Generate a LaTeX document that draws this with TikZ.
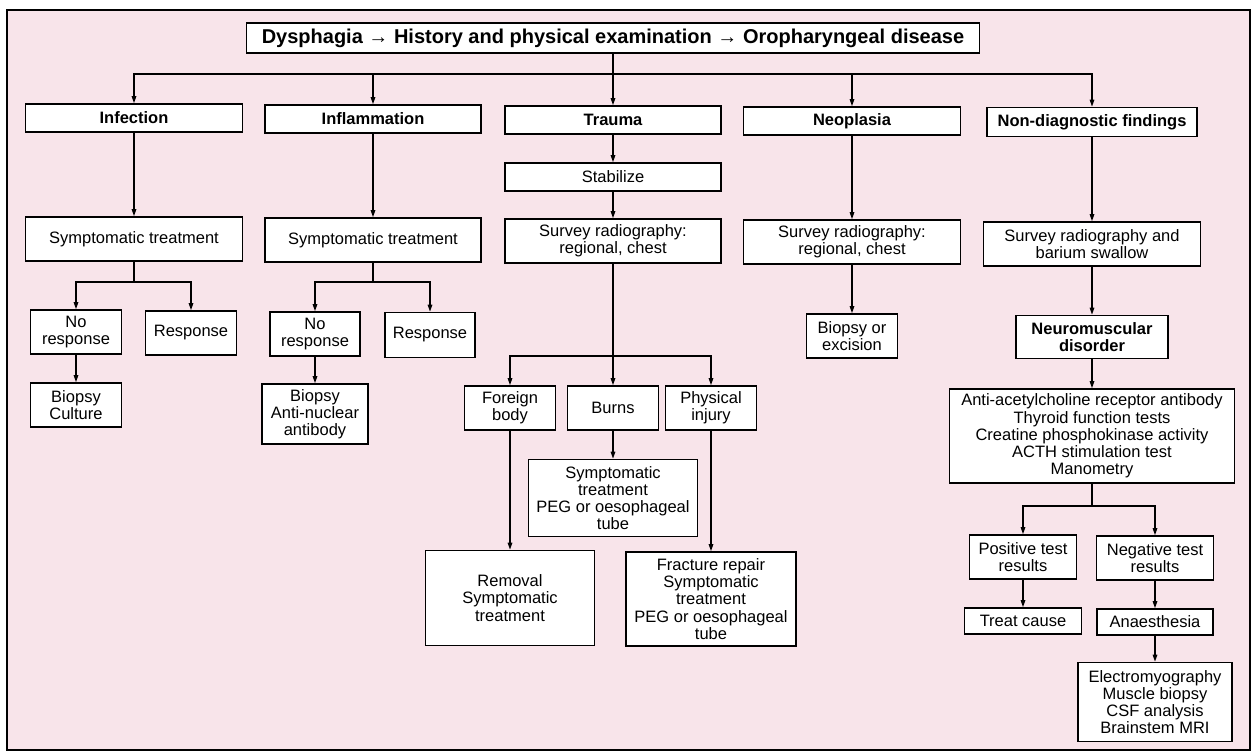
\documentclass[tikz,border=0pt]{standalone}
\usepackage{fontspec}
\setmainfont{Liberation Sans}
\usetikzlibrary{arrows.meta}
\definecolor{pinkbg}{RGB}{248,228,234}
\begin{document}
\begin{tikzpicture}[x=1pt,y=-1pt,
    box/.style={draw,line width=1.6pt,fill=white,align=center,inner sep=1pt,
      font=\fontsize{16.5}{17.2}\selectfont},
    head/.style={box,font=\fontsize{16.5}{17.2}\selectfont\bfseries},
    sz/.style 2 args={minimum width=#1,minimum height=#2},
    arr/.style={line width=1.3pt,-{Triangle[length=7pt,width=4.5pt]}},
    lin/.style={line width=1.3pt}]
  \useasboundingbox (0,0) rectangle (1256,752);
  % Page and frame
  \fill[white] (0,0) rectangle (1256,752);
  \draw[line width=2.4pt,fill=pinkbg] (7,10) rectangle (1250,750);
  % Title
  \node[head,sz={733}{30},font=\fontsize{20}{22}\selectfont\bfseries] (top) at (613,38)
    {Dysphagia → History and physical examination → Oropharyngeal disease};
  % Main groups
  \node[head,sz={217}{28}] (inf) at (134,118) {Infection};
  \node[head,sz={216}{28}] (infl) at (373,119) {Inflammation};
  \node[head,sz={216}{28}] (trauma) at (613,120) {Trauma};
  \node[head,sz={217}{28}] (neo) at (852,121) {Neoplasia};
  \node[head,sz={210}{29}] (nondiag) at (1092,122) {Non-diagnostic findings};
  % Infection
  \node[box,sz={217}{44}] (symI) at (134,239) {Symptomatic treatment};
  \node[box,sz={91}{44}] (noresI) at (76,332) {No\\response};
  \node[box,sz={91}{44}] (respI) at (191,333) {Response};
  \node[box,sz={91}{44}] (biopI) at (76,405) {Biopsy\\Culture};
  % Inflammation
  \node[box,sz={216}{44}] (symF) at (373,240) {Symptomatic treatment};
  \node[box,sz={90}{44}] (noresF) at (315,334) {No\\response};
  \node[box,sz={90}{45}] (respF) at (430,335) {Response};
  \node[box,sz={106}{60}] (biopF) at (315,414) {Biopsy\\Anti-nuclear\\antibody};
  % Trauma
  \node[box,sz={216}{28}] (stab) at (613,177) {Stabilize};
  \node[box,sz={216}{44}] (survT) at (613,241) {Survey radiography:\\regional, chest};
  \node[box,sz={91}{44}] (foreign) at (510,408) {Foreign\\body};
  \node[box,sz={91}{44}] (burns) at (613,408) {Burns};
  \node[box,sz={91}{44}] (phys) at (711,408) {Physical\\injury};
  \node[box,sz={169}{77}] (burnT) at (613,498) {Symptomatic\\treatment\\PEG or oesophageal\\tube};
  \node[box,sz={169}{95}] (remov) at (510,598) {Removal\\Symptomatic\\treatment};
  \node[box,sz={170}{94}] (fract) at (711,599) {Fracture repair\\Symptomatic\\treatment\\PEG or oesophageal\\tube};
  % Neoplasia
  \node[box,sz={217}{44}] (survN) at (852,242) {Survey radiography:\\regional, chest};
  \node[box,sz={91}{44}] (biopN) at (852,336) {Biopsy or\\excision};
  % Non-diagnostic findings
  \node[box,sz={217}{44}] (survB) at (1092,244) {Survey radiography and\\barium swallow};
  \node[head,sz={152}{43}] (neuro) at (1092,337) {Neuromuscular\\disorder};
  \node[box,sz={285}{94}] (tests) at (1092,436) {Anti-acetylcholine receptor antibody\\Thyroid function tests\\Creatine phosphokinase activity\\ACTH stimulation test\\Manometry};
  \node[box,sz={107}{44}] (pos) at (1023,557) {Positive test\\results};
  \node[box,sz={117}{44}] (neg) at (1155,558) {Negative test\\results};
  \node[box,sz={117}{26}] (treat) at (1023,621) {Treat cause};
  \node[box,sz={116}{26}] (anaes) at (1155,622) {Anaesthesia};
  \node[box,sz={154}{79}] (emg) at (1155,702) {Electromyography\\Muscle biopsy\\CSF analysis\\Brainstem MRI};
  % Branch points
  \coordinate (sp) at (613,74);
  \coordinate (bI) at (134,282);
  \coordinate (bF) at (373,282);
  \coordinate (bT) at (613,356);
  \coordinate (bN) at (1092,506);
  % Connectors
  \draw[arr] (top) -- (trauma);
  \draw[arr] (sp) -| (inf);
  \draw[arr] (sp) -| (infl);
  \draw[arr] (sp) -| (neo);
  \draw[arr] (sp) -| (nondiag);
  \draw[arr] (inf) -- (symI);
  \draw[lin] (symI) -- (bI);
  \draw[arr] (bI) -| (noresI);
  \draw[arr] (bI) -| (respI);
  \draw[arr] (noresI) -- (biopI);
  \draw[arr] (infl) -- (symF);
  \draw[lin] (symF) -- (bF);
  \draw[arr] (bF) -| (noresF);
  \draw[arr] (bF) -| (respF);
  \draw[arr] (noresF) -- (biopF);
  \draw[arr] (trauma) -- (stab);
  \draw[arr] (stab) -- (survT);
  \draw[arr] (survT) -- (burns);
  \draw[arr] (bT) -| (foreign);
  \draw[arr] (bT) -| (phys);
  \draw[arr] (burns) -- (burnT);
  \draw[arr] (foreign) -- (remov);
  \draw[arr] (phys) -- (fract);
  \draw[arr] (neo) -- (survN);
  \draw[arr] (survN) -- (biopN);
  \draw[arr] (nondiag) -- (survB);
  \draw[arr] (survB) -- (neuro);
  \draw[arr] (neuro) -- (tests);
  \draw[lin] (tests) -- (bN);
  \draw[arr] (bN) -| (pos);
  \draw[arr] (bN) -| (neg);
  \draw[arr] (pos) -- (treat);
  \draw[arr] (neg) -- (anaes);
  \draw[arr] (anaes) -- (emg);
\end{tikzpicture}
\end{document}
